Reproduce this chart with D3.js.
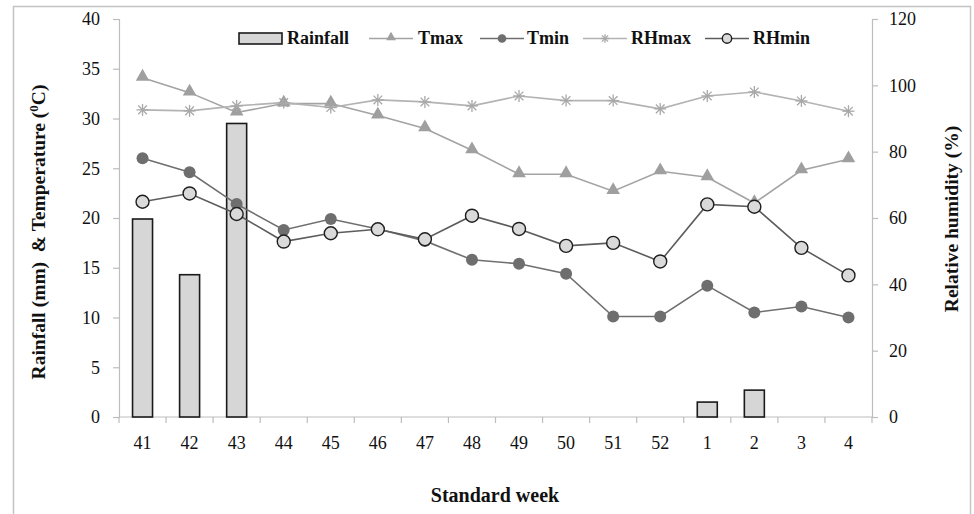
<!DOCTYPE html>
<html>
<head>
<meta charset="utf-8">
<script src="https://cdn.jsdelivr.net/npm/d3@7/dist/d3.min.js"></script>
<style>
  html, body { margin: 0; padding: 0; background: #fff; }
  svg { display: block; }
</style>
</head>
<body>
<svg id="chart" width="974" height="514"></svg>
<script>
// Weekly weather data by standard week
const weeks   = ["41","42","43","44","45","46","47","48","49","50","51","52","1","2","3","4"];
const rainfall = [19.9, 14.3, 29.5, 0, 0, 0, 0, 0, 0, 0, 0, 0, 1.5, 2.7, 0, 0];
const tmax    = [34.1, 32.6, 30.6, 31.5, 31.5, 30.3, 29.0, 26.8, 24.4, 24.4, 22.7, 24.7, 24.1, 21.5, 24.8, 25.9];
const tmin    = [26.0, 24.6, 21.4, 18.8, 19.9, 18.9, 17.7, 15.8, 15.4, 14.4, 10.1, 10.1, 13.2, 10.5, 11.1, 10.0];
const rhmax   = [92.6, 92.3, 93.8, 94.8, 93.3, 95.6, 95.0, 93.8, 96.8, 95.4, 95.4, 92.9, 96.8, 98.0, 95.3, 92.2];
const rhmin   = [64.9, 67.4, 61.2, 52.9, 55.4, 56.6, 53.6, 60.7, 56.7, 51.6, 52.5, 46.9, 64.1, 63.4, 51.0, 42.7];
const leftTicks  = [0, 5, 10, 15, 20, 25, 30, 35, 40];
const rightTicks = [0, 20, 40, 60, 80, 100, 120];

const FONT = "Liberation Serif";
const svg = d3.select("#chart").attr("font-family", FONT);
const axisColor = "#bdbdbd";

// Outer frame
svg.append("path")
  .attr("d", "M13.5,520 V6.5 H970.5 V520")
  .attr("fill", "none").attr("stroke", "#c4c4c4").attr("stroke-width", 1.5);

const plot = { left: 119, right: 872, top: 19, bottom: 417 };

const x = d3.scaleBand().domain(weeks).range([plot.left, plot.right]).paddingInner(0).paddingOuter(0);
const yL = d3.scaleLinear().domain([0, 40]).range([plot.bottom, plot.top]);
const yR = d3.scaleLinear().domain([0, 120]).range([plot.bottom, plot.top]);
const cx = w => x(w) + x.bandwidth() / 2;
const barW = 20;

// Axes
function styleAxis(g) {
  g.attr("font-family", FONT);
  g.selectAll(".domain").attr("stroke", axisColor).attr("stroke-width", 1.2);
  g.selectAll(".tick line").attr("stroke", axisColor).attr("stroke-width", 1.2);
  g.selectAll(".tick text").attr("font-family", FONT).attr("font-size", 18).attr("fill", "#111");
}

svg.append("g")
  .attr("transform", `translate(${plot.left},0)`)
  .call(d3.axisLeft(yL).tickValues(leftTicks).tickSizeInner(6).tickSizeOuter(6).tickPadding(13))
  .call(styleAxis);

svg.append("g")
  .attr("transform", `translate(${plot.right},0)`)
  .call(d3.axisRight(yR).tickValues(rightTicks).tickSizeInner(6).tickSizeOuter(6).tickPadding(11))
  .call(styleAxis);

// Category axis: ticks sit on the boundaries between weeks
const xAxisG = svg.append("g").attr("transform", `translate(0,${plot.bottom})`);
xAxisG.append("line")
  .attr("x1", plot.left).attr("x2", plot.right)
  .attr("stroke", axisColor).attr("stroke-width", 1.2);
xAxisG.selectAll("line.b")
  .data(weeks.concat(["end"]))
  .join("line").attr("class", "b")
  .attr("x1", (d, i) => plot.left + i * x.bandwidth())
  .attr("x2", (d, i) => plot.left + i * x.bandwidth())
  .attr("y1", 0).attr("y2", 6)
  .attr("stroke", axisColor).attr("stroke-width", 1.2);
xAxisG.selectAll("text")
  .data(weeks)
  .join("text")
  .attr("x", d => cx(d))
  .attr("y", 32)
  .attr("text-anchor", "middle")
  .attr("fill", "#111")
  .attr("font-family", FONT)
  .attr("font-size", 18)
  .text(d => d);

// Rainfall bars
svg.append("g").selectAll("rect")
  .data(weeks.map((w, i) => ({ w, v: rainfall[i] })).filter(d => d.v > 0))
  .join("rect")
  .attr("x", d => cx(d.w) - barW / 2)
  .attr("y", d => yL(d.v))
  .attr("width", barW)
  .attr("height", d => yL(0) - yL(d.v))
  .attr("fill", "#d6d6d6")
  .attr("stroke", "#1a1a1a")
  .attr("stroke-width", 1.6);

// Line series
const series = [
  { name: "Tmax",  vals: tmax,  y: yL, line: "#a3a3a3", marker: "tri" },
  { name: "Tmin",  vals: tmin,  y: yL, line: "#6f6f6f", marker: "dot" },
  { name: "RHmax", vals: rhmax, y: yR, line: "#b3b3b3", marker: "star" },
  { name: "RHmin", vals: rhmin, y: yR, line: "#5c5c5c", marker: "ring" }
];

function drawMarker(g, type, px, py, scale = 1) {
  if (type === "tri") {
    g.append("path")
      .attr("d", d3.symbol().type(d3.symbolTriangle).size(80 * scale * scale)())
      .attr("transform", `translate(${px},${py - 1})`)
      .attr("fill", "#9f9f9f");
  } else if (type === "dot") {
    g.append("circle").attr("cx", px).attr("cy", py).attr("r", 6 * scale)
      .attr("fill", "#6e6e6e");
  } else if (type === "star") {
    const r = 6 * scale;
    const st = g.append("g").attr("transform", `translate(${px},${py})`)
      .attr("stroke", "#a8a8a8").attr("stroke-width", 1.3);
    st.append("line").attr("x1", -r).attr("x2", r).attr("y1", 0).attr("y2", 0);
    st.append("line").attr("x1", 0).attr("x2", 0).attr("y1", -r).attr("y2", r);
    st.append("line").attr("x1", -r * 0.72).attr("x2", r * 0.72).attr("y1", -r * 0.72).attr("y2", r * 0.72);
    st.append("line").attr("x1", -r * 0.72).attr("x2", r * 0.72).attr("y1", r * 0.72).attr("y2", -r * 0.72);
  } else if (type === "ring") {
    g.append("circle").attr("cx", px).attr("cy", py).attr("r", 6.5 * scale)
      .attr("fill", "#dadada").attr("stroke", "#1e1e1e").attr("stroke-width", 1.4);
  }
}

series.forEach(s => {
  const g = svg.append("g");
  const line = d3.line().x((d, i) => cx(weeks[i])).y(d => s.y(d));
  g.append("path").datum(s.vals)
    .attr("d", line).attr("fill", "none")
    .attr("stroke", s.line).attr("stroke-width", 1.6);
  s.vals.forEach((v, i) => drawMarker(g, s.marker, cx(weeks[i]), s.y(v)));
});

// Legend
const legend = svg.append("g").attr("font-family", FONT).attr("font-weight", "bold").attr("font-size", 18);
legend.append("rect").attr("x", 239).attr("y", 33).attr("width", 43).attr("height", 11)
  .attr("fill", "#d6d6d6").attr("stroke", "#1a1a1a").attr("stroke-width", 1.6);
legend.append("text").attr("x", 287).attr("y", 44).attr("fill", "#111").text("Rainfall");

const legendItems = [
  { s: series[0], x0: 369, tx: 418 },
  { s: series[1], x0: 480, tx: 527 },
  { s: series[2], x0: 583, tx: 631 },
  { s: series[3], x0: 705, tx: 753 }
];
legendItems.forEach(it => {
  legend.append("line").attr("x1", it.x0).attr("x2", it.x0 + 44)
    .attr("y1", 38.5).attr("y2", 38.5)
    .attr("stroke", it.s.line).attr("stroke-width", 1.6);
  drawMarker(legend, it.s.marker, it.x0 + 22, 38.5, 0.72);
  legend.append("text").attr("x", it.tx).attr("y", 44).attr("fill", "#111").text(it.s.name);
});

// Axis titles
const titleStyle = sel => sel.attr("font-family", FONT).attr("font-weight", "bold")
  .attr("font-size", 19.5).attr("fill", "#111").style("white-space", "pre");

const lt = svg.append("text")
  .attr("transform", "translate(45,232) rotate(-90)")
  .attr("text-anchor", "middle")
  .call(titleStyle);
lt.append("tspan").text("Rainfall (mm)  & Temperature (");
lt.append("tspan").attr("baseline-shift", "super").attr("font-size", 13).text("0");
lt.append("tspan").text("C)");

svg.append("text")
  .attr("transform", "translate(958,219) rotate(-90)")
  .attr("text-anchor", "middle")
  .call(titleStyle)
  .text("Relative humidity (%)");

svg.append("text")
  .attr("x", 495).attr("y", 502)
  .attr("text-anchor", "middle")
  .call(titleStyle)
  .attr("font-size", 20)
  .text("Standard week");
</script>
</body>
</html>
